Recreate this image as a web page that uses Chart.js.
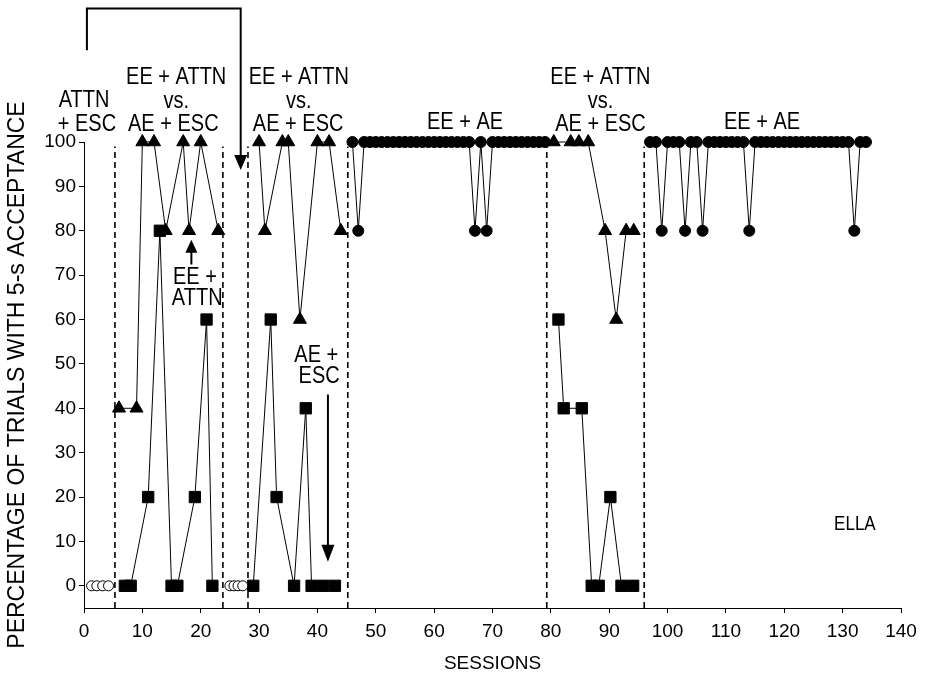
<!DOCTYPE html>
<html>
<head>
<meta charset="utf-8">
<script src="https://cdn.jsdelivr.net/npm/chart.js@4.4.1/dist/chart.umd.min.js"></script>
<style>
  html, body { margin: 0; padding: 0; background: #fff; }
  #wrap { width: 927px; height: 683px; position: relative; }
</style>
</head>
<body>
<div id="wrap"><canvas id="chart-ella"></canvas></div>
<script>
// ---- data: session number / % of trials with 5-s acceptance ----
const xTicks = [0, 10, 20, 30, 40, 50, 60, 70, 80, 90, 100, 110, 120, 130, 140];
const yTicks = [0, 10, 20, 30, 40, 50, 60, 70, 80, 90, 100];

// ATTN + ESC baselines (open circles)
const attnEscSessionsA = [1.3, 2.2, 3.2, 4.2];
const attnEscValuesA   = [0, 0, 0, 0];
const attnEscSessionsB = [25, 25.7, 26.4, 27.2];
const attnEscValuesB   = [0, 0, 0, 0];

// EE + ATTN (triangles)
const eeAttnSessionsA = [6, 9, 10, 12, 14, 17, 18, 20, 23];
const eeAttnValuesA   = [40, 40, 100, 100, 80, 100, 80, 100, 80];
const eeAttnSessionsB = [30, 31, 34, 35, 37, 40, 42, 44];
const eeAttnValuesB   = [100, 80, 100, 100, 60, 100, 100, 80];
const eeAttnSessionsC = [80.5, 83.4, 84.8, 86.4, 89.3, 91.2, 92.9, 94.2];
const eeAttnValuesC   = [100, 100, 100, 100, 80, 60, 80, 80];

// AE + ESC (squares)
const aeEscSessionsA = [7, 8, 11, 13, 15, 16, 19, 21, 22];
const aeEscValuesA   = [0, 0, 20, 80, 0, 0, 20, 60, 0];
const aeEscSessionsB = [29, 32, 33, 36, 38, 39, 41, 43];
const aeEscValuesB   = [0, 60, 20, 0, 40, 0, 0, 0];
const aeEscSessionsC = [81.3, 82.2, 85.3, 87.0, 88.2, 90.2, 92.1, 94.1];
const aeEscValuesC   = [60, 40, 40, 0, 0, 20, 0, 0];

// EE + AE (filled circles)
const eeAeSessionsA = [46, 47, 48, 49, 50, 51, 52, 53, 54, 55, 56, 57, 58, 59, 60, 61, 62,
  63, 64, 65, 66, 67, 68, 69, 70, 71, 72, 73, 74, 75, 76, 77, 78, 79];
const eeAeValuesA = [100, 80, 100, 100, 100, 100, 100, 100, 100, 100, 100, 100, 100, 100, 100, 100, 100,
  100, 100, 100, 100, 80, 100, 80, 100, 100, 100, 100, 100, 100, 100, 100, 100, 100];
const eeAeSessionsB = [97, 98, 99, 100, 101, 102, 103, 104, 105, 106, 107, 108, 109, 110, 111, 112, 113,
  114, 115, 116, 117, 118, 119, 120, 121, 122, 123, 124, 125, 126, 127, 128, 129, 130, 131, 132, 133, 134];
const eeAeValuesB = [100, 100, 80, 100, 100, 100, 80, 100, 100, 80, 100, 100, 100, 100, 100, 100, 100,
  80, 100, 100, 100, 100, 100, 100, 100, 100, 100, 100, 100, 100, 100, 100, 100, 100, 100, 80, 100, 100];

// phase change lines (session)
const phaseLines = [5.3, 23.8, 28.1, 45.2, 79.3, 96.0];

/* 
  ==================================================
  ================== ANNOTATIONS ===================
  ==================================================
*/
const FONT = "'Liberation Sans', Arial, sans-serif";

const notes = [
  ['ATTN', 0, 109.4], ['+ ESC', 0.5, 104.0],
  ['EE + ATTN', 15.8, 114.6], ['vs.', 15.8, 109.2], ['AE + ESC', 15.3, 104.0],
  ['EE + ATTN', 36.8, 114.6], ['vs.', 36.8, 109.2], ['AE + ESC', 36.7, 104.0],
  ['EE + AE', 65.3, 104.5],
  ['EE + ATTN', 88.5, 114.6], ['vs.', 88.5, 109.2], ['AE + ESC', 88.5, 104.0],
  ['EE + AE', 116.2, 104.5],
  ['EE +', 19.0, 69.6], ['ATTN', 19.4, 64.8],
  ['AE +', 39.8, 51.9], ['ESC', 40.3, 47.3]
];

function arrowHead(ctx, x, tipY, dir, len, w) {
  ctx.beginPath();
  ctx.moveTo(x, tipY);
  ctx.lineTo(x - w / 2, tipY - dir * len);
  ctx.lineTo(x + w / 2, tipY - dir * len);
  ctx.closePath();
  ctx.fill();
}

const notesPlugin = {
  id: 'notes',
  beforeDatasetsDraw(chart) {
    const { ctx, chartArea, scales: { x, y } } = chart;
    ctx.save();
    ctx.strokeStyle = '#000';
    ctx.lineWidth = 1.6;
    ctx.setLineDash([6, 4]);
    phaseLines.forEach(p => {
      let px = x.getPixelForValue(p);
      ctx.beginPath();
      ctx.moveTo(px, chartArea.bottom);
      ctx.lineTo(px, y.getPixelForValue(99));
      ctx.stroke();
    });
    ctx.restore();
  },
  afterDatasetsDraw(chart) {
    const { ctx, scales: { x, y } } = chart;
    ctx.save();
    ctx.fillStyle = '#000';
    ctx.strokeStyle = '#000';
    ctx.textAlign = 'center';
    ctx.textBaseline = 'middle';

    ctx.font = '20px ' + FONT;
    notes.forEach(([t, sx, sy]) => {
      ctx.save();
      ctx.translate(x.getPixelForValue(sx), y.getPixelForValue(sy));
      ctx.scale(1, 1.22);
      ctx.fillText(t, 0, 0);
      ctx.restore();
    });

    ctx.font = '17px ' + FONT;
    ctx.save();
    ctx.translate(x.getPixelForValue(132.1), y.getPixelForValue(13.9));
    ctx.scale(1, 1.2);
    ctx.fillText('ELLA', 0, 0);
    ctx.restore();

    ctx.lineWidth = 2;
    // arrow up to the EE + ATTN point
    let ax = x.getPixelForValue(18.4);
    ctx.beginPath();
    ctx.moveTo(ax, y.getPixelForValue(72.4));
    ctx.lineTo(ax, y.getPixelForValue(77));
    ctx.stroke();
    arrowHead(ctx, ax, y.getPixelForValue(78), -1, 13, 12);

    // arrow down to the AE + ESC run
    let bx = x.getPixelForValue(41.8);
    ctx.beginPath();
    ctx.moveTo(bx, y.getPixelForValue(43.1));
    ctx.lineTo(bx, y.getPixelForValue(8));
    ctx.stroke();
    arrowHead(ctx, bx, y.getPixelForValue(5.4), 1, 17, 13);

    // bracket from the first baseline to the second
    let l = x.getPixelForValue(0.5), r = x.getPixelForValue(26.85);
    let top = y.getPixelForValue(130.1);
    ctx.beginPath();
    ctx.moveTo(l, y.getPixelForValue(120.7));
    ctx.lineTo(l, top);
    ctx.lineTo(r, top);
    ctx.lineTo(r, y.getPixelForValue(96));
    ctx.stroke();
    arrowHead(ctx, r, y.getPixelForValue(93.7), 1, 15, 13);
    ctx.restore();
  }
};

/* 
  ==================================================
  ===================== CHART ======================
  ==================================================
*/
function serie(sessions, values, style) {
  return Object.assign({
    data: sessions.map((s, i) => ({ x: s, y: values[i] })),
    borderColor: '#000',
    borderWidth: 1,
    tension: 0,
    clip: false,
    pointBorderColor: '#000',
    pointBackgroundColor: '#000',
    pointBorderWidth: 1
  }, style);
}

const openCircle = { pointStyle: 'circle', pointRadius: 5, pointBackgroundColor: '#fff' };
const triangle = { pointStyle: 'triangle', pointRadius: 7.5 };
const square = { pointStyle: 'rect', pointRadius: 8 };
const dot = { pointStyle: 'circle', pointRadius: 5.5 };

const datasets = [
  serie(attnEscSessionsA, attnEscValuesA, openCircle),
  serie(attnEscSessionsB, attnEscValuesB, openCircle),
  serie(eeAttnSessionsA, eeAttnValuesA, triangle),
  serie(eeAttnSessionsB, eeAttnValuesB, triangle),
  serie(eeAttnSessionsC, eeAttnValuesC, triangle),
  serie(aeEscSessionsA, aeEscValuesA, square),
  serie(aeEscSessionsB, aeEscValuesB, square),
  serie(aeEscSessionsC, aeEscValuesC, square),
  serie(eeAeSessionsA, eeAeValuesA, dot),
  serie(eeAeSessionsB, eeAeValuesB, dot)
];

const axisFont = { family: FONT, size: 19 };

new Chart(document.getElementById('chart-ella'), {
  type: 'line',
  data: { datasets },
  options: {
    responsive: true,
    maintainAspectRatio: false,
    animation: false,
    layout: { padding: { left: 0, top: 142, right: 26, bottom: 0 } },
    plugins: { legend: { display: false }, tooltip: { enabled: false } },
    scales: {
      x: {
        type: 'linear',
        min: 0, max: 140,
        afterBuildTicks: s => { s.ticks = xTicks.map(v => ({ value: v })); },
        afterFit: s => { s.height = 75; },
        ticks: { font: axisFont, color: '#000', padding: 7, maxRotation: 0 },
        grid: { drawOnChartArea: false, drawTicks: true, tickLength: 5, color: '#000' },
        border: { color: '#000', width: 1 },
        title: { display: true, text: 'SESSIONS', color: '#000',
                 font: { family: FONT, size: 19 }, padding: { top: 0, bottom: 8 } }
      },
      y: {
        min: -5, max: 100,
        afterBuildTicks: s => { s.ticks = yTicks.map(v => ({ value: v })); },
        afterFit: s => { s.width = 84; },
        ticks: { font: axisFont, color: '#000', padding: 3 },
        grid: { drawOnChartArea: false, drawTicks: true, tickLength: 5, color: '#000' },
        border: { color: '#000', width: 1 },
        title: { display: true, text: 'PERCENTAGE OF TRIALS WITH 5-s ACCEPTANCE', color: '#000',
                 font: { family: FONT, size: 23 }, padding: { top: 4, bottom: 0 } }
      }
    }
  },
  plugins: [notesPlugin]
});
</script>
</body>
</html>
